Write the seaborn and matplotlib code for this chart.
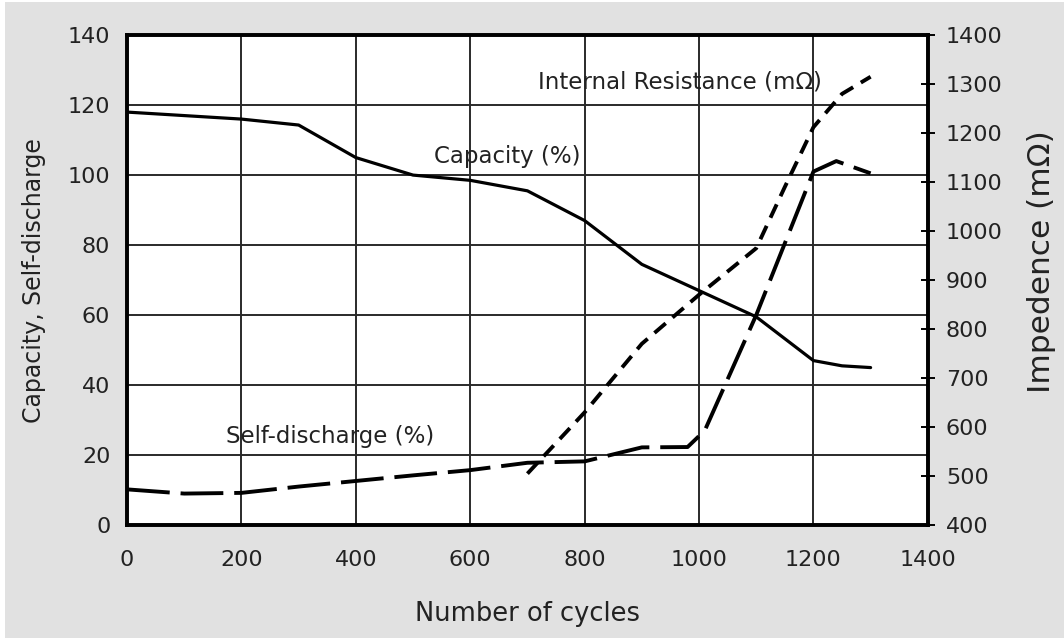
import numpy as np
import pandas as pd
import matplotlib
matplotlib.use("Agg")
import matplotlib.pyplot as plt
import seaborn as sns
from matplotlib.patches import Rectangle

# values
cap_cycles = [0, 200, 300, 400, 500, 600, 700, 800, 900, 1000, 1100, 1200, 1250, 1300]
capacity = [118, 116, 114.3, 105, 100, 98.5, 95.5, 87, 74.5, 67, 59.5, 47, 45.5, 45]

sd_cycles = [0, 100, 200, 300, 400, 500, 600, 700, 800, 900, 980, 1010, 1100, 1200, 1240, 1300]
self_discharge = [10.2, 9, 9.2, 11, 12.6, 14.2, 15.7, 17.8, 18.2, 22.2, 22.3, 27, 60, 101, 104, 100.5]

ir_cycles = [700, 800, 900, 1000, 1100, 1150, 1200, 1250, 1300]
internal_res = [505, 630, 770, 870, 965, 1090, 1212, 1280, 1315]

sns.set_style("white")
plt.rcParams['font.family'] = ['DejaVu Sans']

bg = '#e1e1e1'
txt = '#222222'
fig = plt.figure(figsize=(10.64, 6.38), dpi=100, facecolor='white')
# grey card with a thin white strip on the left and top, as in the scan
fig.patches.append(Rectangle((5 / 1064, 0), 1, 1 - 2 / 638, transform=fig.transFigure,
                             facecolor=bg, edgecolor='none', zorder=-10))
ax = fig.add_axes([0.1194, 0.177, 0.7526, 0.768])
ax2 = ax.twinx()

cap_df = pd.DataFrame({'cycles': cap_cycles, 'value': capacity})
sd_df = pd.DataFrame({'cycles': sd_cycles, 'value': self_discharge})
ir_df = pd.DataFrame({'cycles': ir_cycles, 'value': internal_res})

sns.lineplot(data=cap_df, x='cycles', y='value', ax=ax, color='black', lw=2.3)
sns.lineplot(data=sd_df, x='cycles', y='value', ax=ax, color='black', lw=2.8,
             linestyle=(0, (11, 2.8)))
sns.lineplot(data=ir_df, x='cycles', y='value', ax=ax2, color='black', lw=2.8,
             linestyle=(0, (3.8, 2.3)))

ax.set_xlim(0, 1400)
ax.set_ylim(0, 140)
ax2.set_ylim(400, 1400)
ax.set_xticks(range(0, 1401, 200))
ax.set_yticks(range(0, 141, 20))
ax2.set_yticks(range(400, 1401, 100))

ax.grid(True, color='#2a2a2a', lw=1.4)
ax.set_facecolor('white')
for a in (ax, ax2):
    for sp in a.spines.values():
        sp.set_linewidth(2.6)
        sp.set_color('black')

ax.tick_params(axis='x', length=0, labelsize=16, colors=txt, pad=18)
ax.tick_params(axis='y', length=0, labelsize=16, colors=txt, pad=12)
ax2.tick_params(axis='y', direction='inout', length=10, width=1.4, labelsize=16,
                colors=txt, pad=8)
ax2.tick_params(axis='y', color='black')

ax.set_xlabel('Number of cycles', fontsize=18.5, color=txt, labelpad=22)
ax.set_ylabel('Capacity, Self-discharge', fontsize=17, color=txt, labelpad=16)
ax2.set_ylabel('Impedence (mΩ)', fontsize=22.5, color=txt)
ax2.yaxis.set_label_coords(1.124, 0.537)

ax.text(967, 126.6, 'Internal Resistance (mΩ)', fontsize=16.5, color=txt,
        ha='center', va='center')
ax.text(664, 105.4, 'Capacity (%)', fontsize=16.5, color=txt,
        ha='center', va='center')
ax.text(355, 25.4, 'Self-discharge (%)', fontsize=16.5, color=txt,
        ha='center', va='center')

fig.savefig('out.png', dpi=100, facecolor='white')
